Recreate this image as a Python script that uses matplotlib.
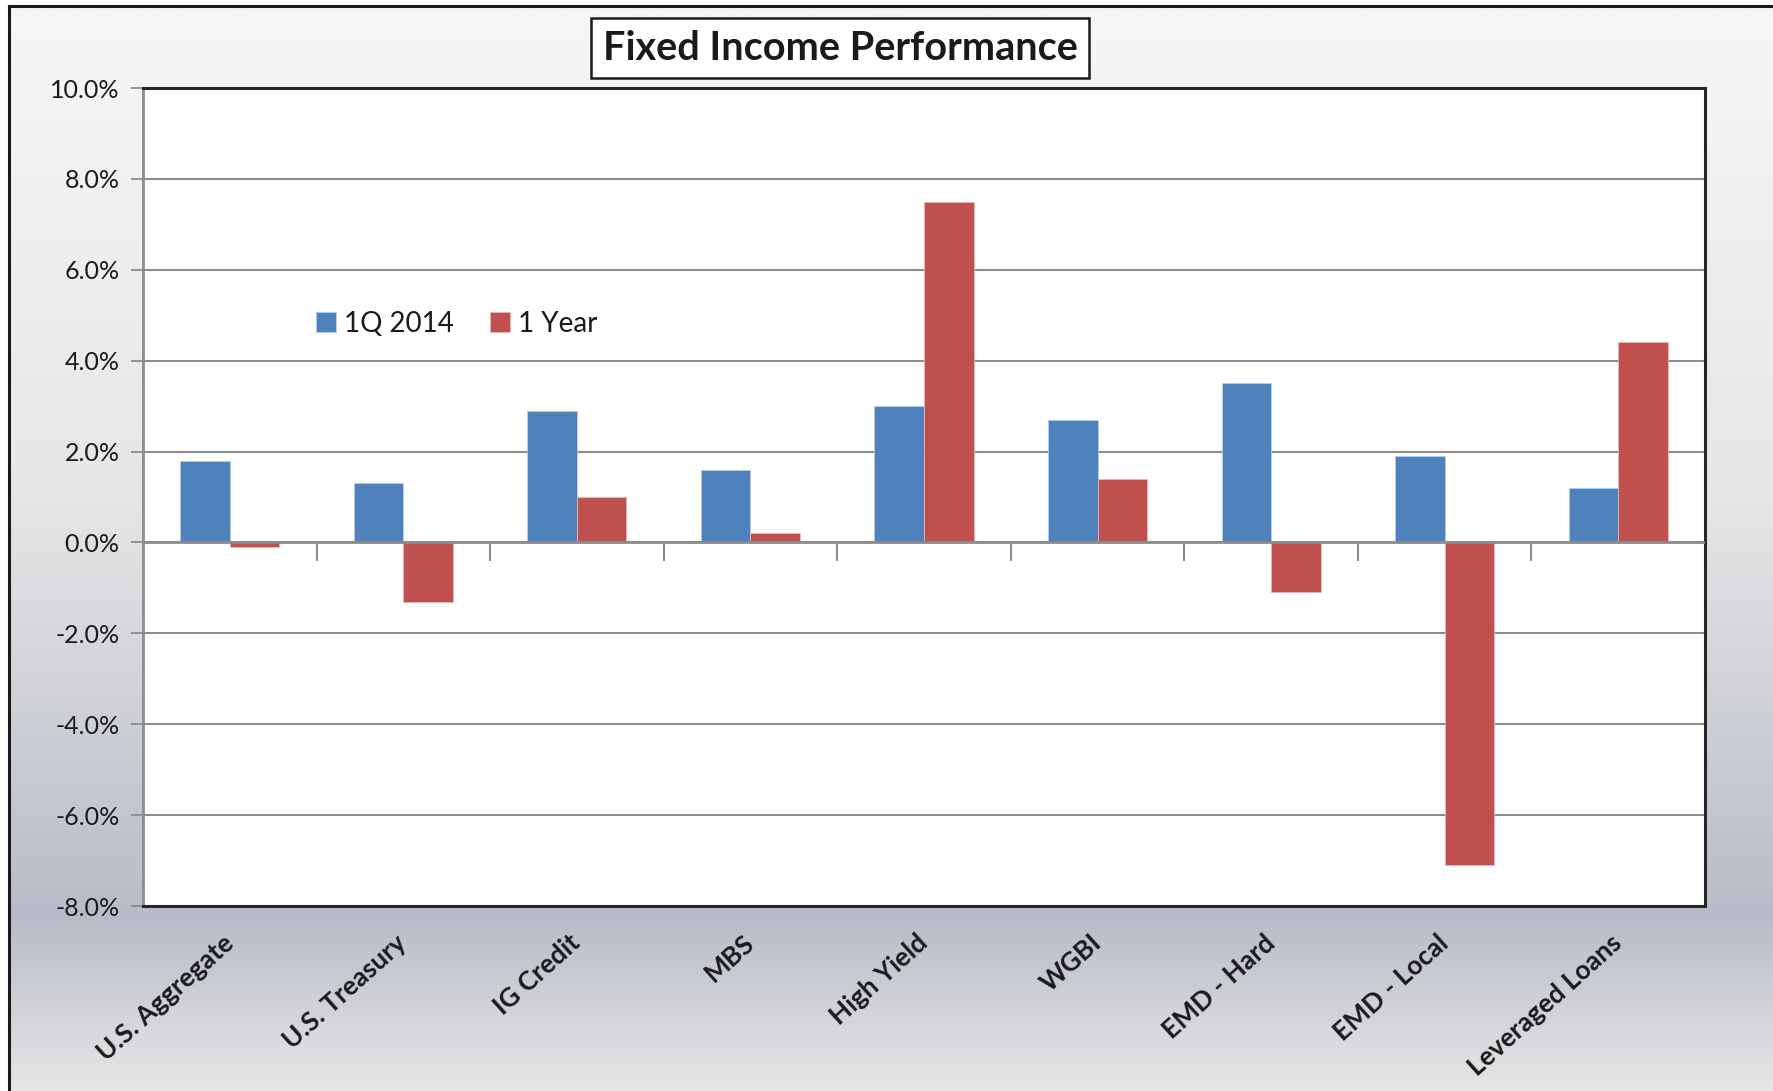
import numpy as np
import matplotlib
matplotlib.use("Agg")
import matplotlib.pyplot as plt
from matplotlib.colors import LinearSegmentedColormap
from matplotlib.lines import Line2D

categories = ["U.S. Aggregate", "U.S. Treasury", "IG Credit", "MBS", "High Yield",
              "WGBI", "EMD - Hard", "EMD - Local", "Leveraged Loans"]
q1_2014 = [1.8, 1.3, 2.9, 1.6, 3.0, 2.7, 3.5, 1.9, 1.2]
one_year = [-0.1, -1.3, 1.0, 0.2, 7.5, 1.4, -1.1, -7.1, 4.4]
series_names = ["1Q 2014", "1 Year"]
y_ticks = [-8, -6, -4, -2, 0, 2, 4, 6, 8, 10]

plt.rcParams['font.family'] = ['Lato', 'DejaVu Sans']

fig = plt.figure(figsize=(17.73, 10.91), dpi=100)
fig.patch.set_facecolor("white")

# gradient background for the chart area
bg = fig.add_axes([0, 0, 1, 1], zorder=0)
cmap = LinearSegmentedColormap.from_list(
    "bg", [(0.0, "#f7f7f7"), (0.45, "#e6e6e6"), (0.84, "#b8bcc8"), (1.0, "#e6e6e6")])
grad = np.linspace(0, 1, 512).reshape(-1, 1)
bg.imshow(grad, aspect="auto", cmap=cmap, extent=[9 / 1773, 1, 0, 1 - 6 / 1091],
          origin="upper")
bg.set_xlim(0, 1)
bg.set_ylim(0, 1)
bg.axis("off")
fig.add_artist(Line2D([9 / 1773, 9 / 1773], [0, 1 - 6 / 1091], color="#1a1a1a", lw=2.2))
fig.add_artist(Line2D([9 / 1773, 1], [1 - 6 / 1091, 1 - 6 / 1091], color="#1a1a1a", lw=2.2))

ax = fig.add_axes([143 / 1773, 1 - 906 / 1091, (1705 - 143) / 1773, (906 - 88) / 1091], zorder=1)
ax.set_facecolor("white")

x = np.arange(len(categories))
w = 1 / 3.5
ax.bar(x - w / 2, q1_2014, w, color="#4f81bd", edgecolor="#b9cde5", linewidth=0.6,
       label=series_names[0], zorder=3)
ax.bar(x + w / 2, one_year, w, color="#c0504d", edgecolor="#e6b9b8", linewidth=0.6,
       label=series_names[1], zorder=3)

ax.set_xlim(-0.5, len(categories) - 0.5)
ax.set_ylim(-8, 10)
ax.set_yticks(y_ticks)
ax.set_yticklabels([f"{v:.1f}%" for v in y_ticks], fontsize=18, color="#1a1a1a")
ax.yaxis.grid(True, color="#8c8c8c", lw=1.5, zorder=1)
ax.set_axisbelow(True)
ax.tick_params(axis="y", direction="out", length=9, width=1.3, color="#8c8c8c", pad=8)

# zero line with category boundary ticks
ax.axhline(0, color="#8c8c8c", lw=2, zorder=4)
ax.vlines(x[:-1] + 0.5, -0.4, 0, color="#8c8c8c", lw=1.5, zorder=4)

ax.set_xticks(x)
ax.set_xticklabels(categories, rotation=42, ha="right", va="center",
                   rotation_mode="anchor", fontsize=19, fontweight="bold",
                   color="#1a1a1a")
ax.tick_params(axis="x", length=0, pad=24)

for side in ["top", "right", "bottom"]:
    ax.spines[side].set_color("#262626")
    ax.spines[side].set_linewidth(2.2)
ax.spines["left"].set_color("#8c8c8c")
ax.spines["left"].set_linewidth(2)

ax.legend(loc="center left", bbox_to_anchor=(0.095, 0.712), frameon=False, ncol=2,
          fontsize=20, handlelength=0.7, handleheight=0.7, handletextpad=0.3,
          columnspacing=1.3, labelcolor="#1a1a1a")

fig.text(840 / 1773, 1 - 48 / 1091, "Fixed Income Performance", fontsize=28.5,
         fontweight="bold", color="#1a1a1a", ha="center", va="center", zorder=5,
         bbox=dict(boxstyle="square,pad=0.3", facecolor="white", edgecolor="#1a1a1a", lw=1.8))

fig.savefig("out.png", dpi=100)
